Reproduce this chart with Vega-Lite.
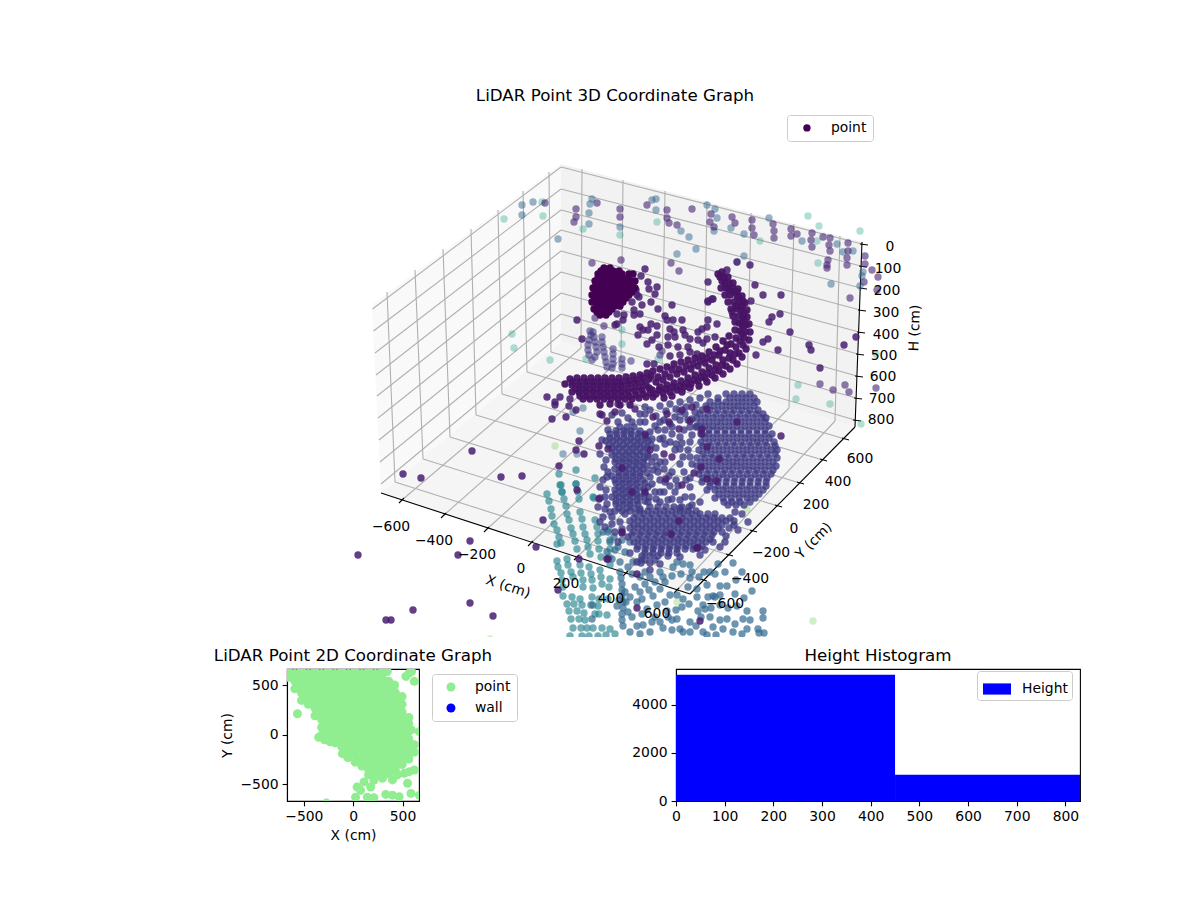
{"$schema":"https://vega.github.io/schema/vega-lite/v6.json","padding":{"left":213,"top":88,"right":120,"bottom":60},"background":"white","spacing":10,
"resolve":{"scale":{"color":"independent"},"legend":{"color":"independent"}},
"config":{"font":"DejaVu Sans","view":{"stroke":null},"title":{"fontSize":16.7,"fontWeight":"normal","color":"black","offset":4},"axis":{"grid":false,"labelFlush":false,"labelFontSize":13.9,"titleFontSize":13.9,"titleFontWeight":"normal","labelColor":"black","titleColor":"black","tickColor":"black","domainColor":"black","tickSize":4.9,"tickWidth":1.1,"domainWidth":1.1,"labelPadding":4,"titlePadding":5},"legend":{"labelFontSize":13.9,"labelColor":"black","cornerRadius":3,"strokeColor":"#cccccc","fillColor":"white","padding":6,"title":null}},
"datasets":{
"gridLines":[{"u":402,"v":498,"u2":581,"v2":346},{"u":444,"v":513,"u2":621,"v2":357},{"u":487,"v":527,"u2":662,"v2":369},{"u":531,"v":541,"u2":704,"v2":381},{"u":577,"v":555,"u2":747,"v2":394},{"u":626,"v":571,"u2":789,"v2":406},{"u":677,"v":588,"u2":835,"v2":419},{"u":581,"v":346,"u2":582,"v2":167},{"u":621,"v":357,"u2":623,"v2":178},{"u":662,"v":369,"u2":665,"v2":189},{"u":704,"v":381,"u2":707,"v2":200},{"u":747,"v":394,"u2":751,"v2":211},{"u":789,"v":406,"u2":794,"v2":222},{"u":835,"v":419,"u2":840,"v2":234},{"u":703,"v":578,"u2":395,"v2":480},{"u":729,"v":553,"u2":423,"v2":457},{"u":753,"v":529,"u2":450,"v2":435},{"u":778,"v":504,"u2":476,"v2":413},{"u":800,"v":481,"u2":502,"v2":392},{"u":823,"v":458,"u2":527,"v2":370},{"u":845,"v":437,"u2":551,"v2":350},{"u":395,"v":480,"u2":387,"v2":290},{"u":423,"v":457,"u2":415,"v2":268},{"u":450,"v":435,"u2":443,"v2":247},{"u":476,"v":413,"u2":471,"v2":227},{"u":502,"v":392,"u2":498,"v2":208},{"u":527,"v":370,"u2":523,"v2":189},{"u":551,"v":350,"u2":549,"v2":170},{"u":561,"v":165,"u2":862,"v2":242},{"u":561,"v":187,"u2":861,"v2":264},{"u":561,"v":208,"u2":861,"v2":286},{"u":561,"v":228,"u2":860,"v2":308},{"u":561,"v":249,"u2":859,"v2":330},{"u":561,"v":270,"u2":858,"v2":352},{"u":561,"v":291,"u2":857,"v2":374},{"u":561,"v":312,"u2":856,"v2":396},{"u":561,"v":332,"u2":855,"v2":418},{"u":561,"v":165,"u2":372.5,"v2":307},{"u":561,"v":187,"u2":373.5,"v2":329},{"u":561,"v":208,"u2":375,"v2":351},{"u":561,"v":228,"u2":376,"v2":373},{"u":561,"v":249,"u2":377,"v2":394},{"u":561,"v":270,"u2":378,"v2":416},{"u":561,"v":291,"u2":379,"v2":438},{"u":561,"v":312,"u2":380,"v2":460},{"u":561,"v":332,"u2":381,"v2":482}],
"axisLines":[{"u":381,"v":491,"u2":690,"v2":592},{"u":690,"v":592,"u2":855,"v2":425},{"u":862,"v":240,"u2":855,"v2":425},{"u":399,"v":501,"u2":404,"v2":496},{"u":441,"v":516,"u2":446,"v2":511},{"u":484,"v":530,"u2":489,"v2":525},{"u":528,"v":544,"u2":533,"v2":539},{"u":574,"v":558,"u2":579,"v2":553},{"u":623,"v":574,"u2":628,"v2":569},{"u":674,"v":591,"u2":679,"v2":586},{"u":700,"v":577,"u2":707,"v2":579},{"u":726,"v":552,"u2":733,"v2":554},{"u":750,"v":528,"u2":757,"v2":530},{"u":775,"v":503,"u2":782,"v2":505},{"u":797,"v":480,"u2":804,"v2":482},{"u":820,"v":457,"u2":827,"v2":459},{"u":842,"v":436,"u2":849,"v2":438},{"u":860,"v":242,"u2":868,"v2":243},{"u":859,"v":264,"u2":867,"v2":265},{"u":859,"v":286,"u2":867,"v2":287},{"u":858,"v":308,"u2":866,"v2":309},{"u":857,"v":330,"u2":865,"v2":331},{"u":856,"v":352,"u2":864,"v2":353},{"u":855,"v":374,"u2":863,"v2":375},{"u":854,"v":396,"u2":862,"v2":397},{"u":853,"v":418,"u2":861,"v2":419}],
"tickLabels":[{"u":391,"v":525,"t":"−600"},{"u":434,"v":539,"t":"−400"},{"u":477,"v":553,"t":"−200"},{"u":521,"v":567,"t":"0"},{"u":566,"v":582,"t":"200"},{"u":611,"v":597,"t":"400"},{"u":657,"v":612,"t":"600"},{"u":860,"v":457,"t":"600"},{"u":838,"v":480,"t":"400"},{"u":816,"v":503,"t":"200"},{"u":794,"v":527,"t":"0"},{"u":771,"v":551,"t":"−200"},{"u":750,"v":577,"t":"−400"},{"u":725,"v":602,"t":"−600"},{"u":890,"v":245,"t":"0"},{"u":888,"v":267,"t":"100"},{"u":887,"v":289,"t":"200"},{"u":886,"v":311,"t":"300"},{"u":886,"v":333,"t":"400"},{"u":884,"v":354,"t":"500"},{"u":883,"v":375,"t":"600"},{"u":882,"v":397,"t":"700"},{"u":881,"v":418,"t":"800"}],
"pale":[{"u":747,"v":507},{"u":677,"v":600},{"u":813,"v":619},{"u":490,"v":637},{"u":555,"v":444}],
"farTeal":[{"u":504,"v":217},{"u":542,"v":200},{"u":543,"v":214},{"u":583,"v":227},{"u":620,"v":233},{"u":512,"v":332},{"u":514,"v":346},{"u":550,"v":358},{"u":586,"v":357},{"u":657,"v":220},{"u":737,"v":260},{"u":760,"v":239},{"u":808,"v":214},{"u":817,"v":239},{"u":819,"v":224},{"u":860,"v":229},{"u":818,"v":261},{"u":876,"v":352},{"u":798,"v":383},{"u":796,"v":397},{"u":830,"v":402},{"u":861,"v":422},{"u":622,"v":328},{"u":622,"v":342},{"u":658,"v":357}],
"backBlue":[{"u":522,"v":203},{"u":522,"v":213},{"u":533,"v":200},{"u":558,"v":237},{"u":589,"v":211},{"u":590,"v":202},{"u":592,"v":197},{"u":589,"v":222},{"u":620,"v":225},{"u":652,"v":198},{"u":656,"v":197},{"u":656,"v":208},{"u":681,"v":229},{"u":689,"v":235},{"u":707,"v":203},{"u":715,"v":207},{"u":717,"v":216},{"u":714,"v":229},{"u":731,"v":226},{"u":744,"v":232},{"u":769,"v":216},{"u":802,"v":239},{"u":837,"v":242},{"u":843,"v":250},{"u":853,"v":249},{"u":831,"v":282},{"u":677,"v":252},{"u":696,"v":247},{"u":744,"v":254},{"u":863,"v":270},{"u":862,"v":274},{"u":860,"v":284},{"u":580,"v":429},{"u":563,"v":452},{"u":577,"v":452},{"u":573,"v":410},{"u":583,"v":406}],
"backPurple":[{"u":545,"v":201},{"u":576,"v":207},{"u":576,"v":215},{"u":574,"v":220},{"u":597,"v":201},{"u":592,"v":261},{"u":620,"v":207},{"u":620,"v":215},{"u":621,"v":258},{"u":647,"v":203},{"u":667,"v":208},{"u":667,"v":216},{"u":669,"v":221},{"u":677,"v":223},{"u":692,"v":207},{"u":711,"v":212},{"u":710,"v":220},{"u":714,"v":225},{"u":732,"v":215},{"u":735,"v":221},{"u":752,"v":218},{"u":752,"v":226},{"u":754,"v":233},{"u":773,"v":222},{"u":774,"v":229},{"u":774,"v":236},{"u":791,"v":227},{"u":791,"v":234},{"u":797,"v":232},{"u":812,"v":231},{"u":811,"v":238},{"u":812,"v":245},{"u":823,"v":235},{"u":830,"v":236},{"u":829,"v":243},{"u":830,"v":249},{"u":848,"v":241},{"u":848,"v":249},{"u":865,"v":254},{"u":847,"v":256},{"u":847,"v":263},{"u":828,"v":258},{"u":827,"v":263},{"u":827,"v":266},{"u":865,"v":262},{"u":872,"v":268},{"u":864,"v":280},{"u":878,"v":275},{"u":877,"v":288},{"u":850,"v":296},{"u":671,"v":261},{"u":679,"v":269},{"u":820,"v":382},{"u":833,"v":388},{"u":845,"v":383},{"u":849,"v":390},{"u":876,"v":386},{"u":604,"v":324},{"u":595,"v":316}],
"fan":[{"u":547,"v":492},{"u":549,"v":499},{"u":551,"v":507},{"u":552,"v":514},{"u":554,"v":522},{"u":557,"v":528},{"u":559,"v":535},{"u":561,"v":541},{"u":561,"v":483},{"u":562,"v":490},{"u":564,"v":497},{"u":566,"v":504},{"u":567,"v":512},{"u":569,"v":518},{"u":571,"v":526},{"u":573,"v":532},{"u":575,"v":539},{"u":577,"v":547},{"u":576,"v":482},{"u":578,"v":490},{"u":579,"v":497},{"u":580,"v":510},{"u":582,"v":517},{"u":583,"v":525},{"u":585,"v":532},{"u":587,"v":538},{"u":588,"v":545},{"u":590,"v":552},{"u":594,"v":496},{"u":595,"v":518},{"u":597,"v":525},{"u":598,"v":532},{"u":598,"v":539},{"u":599,"v":547},{"u":601,"v":555},{"u":609,"v":528},{"u":610,"v":538},{"u":610,"v":547},{"u":609,"v":555},{"u":610,"v":563},{"u":557,"v":559},{"u":558,"v":565},{"u":561,"v":571},{"u":562,"v":578},{"u":563,"v":585},{"u":563,"v":594},{"u":567,"v":602},{"u":569,"v":609},{"u":571,"v":617},{"u":573,"v":626},{"u":570,"v":634},{"u":567,"v":557},{"u":568,"v":563},{"u":571,"v":570},{"u":573,"v":575},{"u":572,"v":595},{"u":574,"v":602},{"u":577,"v":609},{"u":579,"v":617},{"u":581,"v":626},{"u":582,"v":634},{"u":580,"v":563},{"u":581,"v":571},{"u":583,"v":578},{"u":583,"v":585},{"u":580,"v":597},{"u":582,"v":603},{"u":584,"v":611},{"u":585,"v":618},{"u":587,"v":626},{"u":589,"v":634},{"u":589,"v":565},{"u":591,"v":572},{"u":592,"v":578},{"u":593,"v":586},{"u":592,"v":595},{"u":593,"v":603},{"u":595,"v":612},{"u":593,"v":626},{"u":598,"v":634},{"u":600,"v":568},{"u":601,"v":575},{"u":602,"v":582},{"u":599,"v":597},{"u":598,"v":604},{"u":599,"v":612},{"u":602,"v":626},{"u":606,"v":633},{"u":610,"v":577},{"u":609,"v":585},{"u":608,"v":597},{"u":607,"v":613},{"u":610,"v":627},{"u":615,"v":632},{"u":557,"v":542},{"u":559,"v":472},{"u":560,"v":483},{"u":576,"v":468},{"u":576,"v":482},{"u":595,"v":476},{"u":593,"v":495},{"u":562,"v":490}],
"lower":[{"u":733,"v":561},{"u":736,"v":578},{"u":752,"v":589},{"u":720,"v":584},{"u":727,"v":584},{"u":744,"v":596},{"u":735,"v":592},{"u":713,"v":594},{"u":720,"v":593},{"u":707,"v":583},{"u":697,"v":587},{"u":699,"v":575},{"u":710,"v":570},{"u":715,"v":572},{"u":718,"v":562},{"u":683,"v":562},{"u":677,"v":560},{"u":690,"v":563},{"u":692,"v":570},{"u":660,"v":570},{"u":673,"v":565},{"u":663,"v":575},{"u":649,"v":588},{"u":660,"v":587},{"u":670,"v":593},{"u":688,"v":585},{"u":677,"v":593},{"u":689,"v":602},{"u":697,"v":595},{"u":703,"v":603},{"u":708,"v":595},{"u":720,"v":603},{"u":715,"v":595},{"u":705,"v":607},{"u":682,"v":605},{"u":676,"v":608},{"u":667,"v":609},{"u":657,"v":603},{"u":647,"v":607},{"u":747,"v":609},{"u":763,"v":609},{"u":763,"v":616},{"u":743,"v":617},{"u":750,"v":618},{"u":758,"v":627},{"u":764,"v":631},{"u":759,"v":631},{"u":747,"v":627},{"u":727,"v":617},{"u":720,"v":618},{"u":710,"v":615},{"u":701,"v":615},{"u":690,"v":620},{"u":677,"v":617},{"u":668,"v":615},{"u":660,"v":620},{"u":652,"v":620},{"u":663,"v":626},{"u":672,"v":628},{"u":683,"v":630},{"u":690,"v":630},{"u":703,"v":630},{"u":713,"v":625},{"u":723,"v":627},{"u":733,"v":630},{"u":650,"v":630},{"u":643,"v":623},{"u":642,"v":597},{"u":655,"v":615},{"u":680,"v":627},{"u":620,"v":570},{"u":621,"v":576},{"u":622,"v":582},{"u":622,"v":588},{"u":622,"v":594},{"u":623,"v":600},{"u":623,"v":606},{"u":622,"v":612},{"u":622,"v":618},{"u":623,"v":624},{"u":625,"v":590},{"u":619,"v":598},{"u":617,"v":604},{"u":626,"v":600},{"u":628,"v":610},{"u":630,"v":595},{"u":635,"v":585},{"u":640,"v":590},{"u":637,"v":600},{"u":645,"v":570},{"u":640,"v":575},{"u":632,"v":572},{"u":628,"v":565},{"u":620,"v":560},{"u":615,"v":548},{"u":610,"v":540},{"u":607,"v":550},{"u":612,"v":557},{"u":618,"v":545},{"u":625,"v":550},{"u":633,"v":560},{"u":641,"v":558},{"u":650,"v":575},{"u":603,"v":530},{"u":608,"v":530},{"u":614,"v":535},{"u":622,"v":538},{"u":630,"v":540},{"u":591,"v":603},{"u":592,"v":617},{"u":665,"v":580},{"u":672,"v":574},{"u":681,"v":572},{"u":690,"v":576},{"u":655,"v":580},{"u":645,"v":582},{"u":653,"v":594},{"u":665,"v":600},{"u":632,"v":615},{"u":637,"v":624},{"u":642,"v":612},{"u":630,"v":630},{"u":640,"v":632},{"u":672,"v":618},{"u":696,"v":624},{"u":711,"v":606},{"u":728,"v":606},{"u":737,"v":604},{"u":707,"v":633},{"u":716,"v":633},{"u":742,"v":632},{"u":735,"v":622},{"u":698,"v":609},{"u":683,"v":597},{"u":704,"v":570},{"u":725,"v":570},{"u":742,"v":570}],
"tubes":[{"u":590,"v":329},{"u":591,"v":333},{"u":589,"v":338},{"u":588,"v":343},{"u":588,"v":348},{"u":589,"v":353},{"u":592,"v":358},{"u":593,"v":330},{"u":594,"v":335},{"u":595,"v":340},{"u":596,"v":345},{"u":597,"v":350},{"u":595,"v":355},{"u":602,"v":335},{"u":602,"v":340},{"u":603,"v":345},{"u":604,"v":350},{"u":605,"v":355},{"u":606,"v":360},{"u":607,"v":365},{"u":613,"v":347},{"u":613,"v":352},{"u":613,"v":357},{"u":613,"v":362},{"u":612,"v":366},{"u":622,"v":362},{"u":622,"v":366},{"u":631,"v":359},{"u":622,"v":357},{"u":660,"v":353},{"u":662,"v":349}],
"disc":[{"u":726,"v":392},{"u":734,"v":392},{"u":742,"v":392},{"u":750,"v":392},{"u":710,"v":400},{"u":718,"v":400},{"u":726,"v":400},{"u":734,"v":400},{"u":742,"v":400},{"u":750,"v":400},{"u":757,"v":400},{"u":702,"v":408},{"u":710,"v":408},{"u":718,"v":408},{"u":726,"v":408},{"u":734,"v":408},{"u":742,"v":408},{"u":750,"v":408},{"u":758,"v":408},{"u":697,"v":416},{"u":705,"v":416},{"u":713,"v":416},{"u":721,"v":416},{"u":729,"v":416},{"u":737,"v":416},{"u":745,"v":416},{"u":753,"v":416},{"u":761,"v":416},{"u":766,"v":416},{"u":697,"v":424},{"u":705,"v":424},{"u":713,"v":424},{"u":721,"v":424},{"u":729,"v":424},{"u":737,"v":424},{"u":745,"v":424},{"u":753,"v":424},{"u":761,"v":424},{"u":769,"v":424},{"u":701,"v":432},{"u":709,"v":432},{"u":717,"v":432},{"u":725,"v":432},{"u":733,"v":432},{"u":741,"v":432},{"u":749,"v":432},{"u":757,"v":432},{"u":765,"v":432},{"u":772,"v":432},{"u":701,"v":440},{"u":709,"v":440},{"u":717,"v":440},{"u":725,"v":440},{"u":733,"v":440},{"u":741,"v":440},{"u":749,"v":440},{"u":757,"v":440},{"u":765,"v":440},{"u":774,"v":440},{"u":699,"v":448},{"u":707,"v":448},{"u":715,"v":448},{"u":723,"v":448},{"u":731,"v":448},{"u":739,"v":448},{"u":747,"v":448},{"u":755,"v":448},{"u":763,"v":448},{"u":771,"v":448},{"u":777,"v":448},{"u":697,"v":456},{"u":705,"v":456},{"u":713,"v":456},{"u":721,"v":456},{"u":729,"v":456},{"u":737,"v":456},{"u":745,"v":456},{"u":753,"v":456},{"u":761,"v":456},{"u":769,"v":456},{"u":777,"v":456},{"u":697,"v":464},{"u":705,"v":464},{"u":713,"v":464},{"u":721,"v":464},{"u":729,"v":464},{"u":737,"v":464},{"u":745,"v":464},{"u":753,"v":464},{"u":761,"v":464},{"u":769,"v":464},{"u":776,"v":464},{"u":699,"v":472},{"u":707,"v":472},{"u":715,"v":472},{"u":723,"v":472},{"u":731,"v":472},{"u":739,"v":472},{"u":747,"v":472},{"u":755,"v":472},{"u":763,"v":472},{"u":771,"v":472},{"u":702,"v":480},{"u":710,"v":480},{"u":718,"v":480},{"u":726,"v":480},{"u":734,"v":480},{"u":742,"v":480},{"u":750,"v":480},{"u":758,"v":480},{"u":766,"v":480},{"u":707,"v":488},{"u":715,"v":488},{"u":723,"v":488},{"u":731,"v":488},{"u":739,"v":488},{"u":747,"v":488},{"u":755,"v":488},{"u":763,"v":488},{"u":715,"v":496},{"u":723,"v":496},{"u":731,"v":496},{"u":739,"v":496},{"u":747,"v":496},{"u":755,"v":496},{"u":728,"v":503},{"u":736,"v":503},{"u":744,"v":503},{"u":718,"v":396},{"u":730,"v":396},{"u":738,"v":396},{"u":746,"v":396},{"u":754,"v":396},{"u":706,"v":404},{"u":714,"v":404},{"u":722,"v":404},{"u":730,"v":404},{"u":738,"v":404},{"u":746,"v":404},{"u":754,"v":404},{"u":700,"v":412},{"u":708,"v":412},{"u":716,"v":412},{"u":724,"v":412},{"u":732,"v":412},{"u":740,"v":412},{"u":748,"v":412},{"u":756,"v":412},{"u":763,"v":412},{"u":701,"v":420},{"u":709,"v":420},{"u":717,"v":420},{"u":725,"v":420},{"u":733,"v":420},{"u":741,"v":420},{"u":749,"v":420},{"u":757,"v":420},{"u":765,"v":420},{"u":701,"v":428},{"u":709,"v":428},{"u":717,"v":428},{"u":725,"v":428},{"u":733,"v":428},{"u":741,"v":428},{"u":749,"v":428},{"u":757,"v":428},{"u":765,"v":428},{"u":705,"v":436},{"u":713,"v":436},{"u":721,"v":436},{"u":729,"v":436},{"u":737,"v":436},{"u":745,"v":436},{"u":753,"v":436},{"u":761,"v":436},{"u":769,"v":436},{"u":703,"v":444},{"u":711,"v":444},{"u":719,"v":444},{"u":727,"v":444},{"u":735,"v":444},{"u":743,"v":444},{"u":751,"v":444},{"u":759,"v":444},{"u":767,"v":444},{"u":775,"v":444},{"u":703,"v":452},{"u":711,"v":452},{"u":719,"v":452},{"u":727,"v":452},{"u":735,"v":452},{"u":743,"v":452},{"u":751,"v":452},{"u":759,"v":452},{"u":767,"v":452},{"u":775,"v":452},{"u":701,"v":460},{"u":709,"v":460},{"u":717,"v":460},{"u":725,"v":460},{"u":733,"v":460},{"u":741,"v":460},{"u":749,"v":460},{"u":757,"v":460},{"u":765,"v":460},{"u":773,"v":460},{"u":701,"v":468},{"u":709,"v":468},{"u":717,"v":468},{"u":725,"v":468},{"u":733,"v":468},{"u":741,"v":468},{"u":749,"v":468},{"u":757,"v":468},{"u":765,"v":468},{"u":773,"v":468},{"u":703,"v":476},{"u":711,"v":476},{"u":719,"v":476},{"u":727,"v":476},{"u":735,"v":476},{"u":743,"v":476},{"u":751,"v":476},{"u":759,"v":476},{"u":767,"v":476},{"u":710,"v":484},{"u":718,"v":484},{"u":726,"v":484},{"u":734,"v":484},{"u":742,"v":484},{"u":750,"v":484},{"u":758,"v":484},{"u":766,"v":484},{"u":719,"v":492},{"u":727,"v":492},{"u":735,"v":492},{"u":743,"v":492},{"u":751,"v":492},{"u":759,"v":492},{"u":724,"v":500},{"u":732,"v":500},{"u":740,"v":500},{"u":750,"v":500},{"u":620,"v":425},{"u":627,"v":425},{"u":634,"v":425},{"u":610,"v":432},{"u":617,"v":432},{"u":624,"v":432},{"u":631,"v":432},{"u":638,"v":432},{"u":645,"v":432},{"u":606,"v":439},{"u":613,"v":439},{"u":620,"v":439},{"u":627,"v":439},{"u":634,"v":439},{"u":641,"v":439},{"u":648,"v":439},{"u":612,"v":446},{"u":619,"v":446},{"u":626,"v":446},{"u":633,"v":446},{"u":640,"v":446},{"u":647,"v":446},{"u":612,"v":453},{"u":619,"v":453},{"u":626,"v":453},{"u":633,"v":453},{"u":640,"v":453},{"u":648,"v":453},{"u":615,"v":460},{"u":622,"v":460},{"u":629,"v":460},{"u":636,"v":460},{"u":643,"v":460},{"u":652,"v":460},{"u":660,"v":460},{"u":615,"v":467},{"u":622,"v":467},{"u":629,"v":467},{"u":636,"v":467},{"u":643,"v":467},{"u":653,"v":468},{"u":664,"v":467},{"u":612,"v":474},{"u":619,"v":474},{"u":626,"v":474},{"u":633,"v":474},{"u":640,"v":474},{"u":650,"v":475},{"u":669,"v":474},{"u":616,"v":481},{"u":623,"v":481},{"u":630,"v":481},{"u":637,"v":481},{"u":645,"v":481},{"u":615,"v":488},{"u":622,"v":488},{"u":629,"v":488},{"u":636,"v":488},{"u":644,"v":488},{"u":612,"v":495},{"u":619,"v":495},{"u":626,"v":495},{"u":633,"v":495},{"u":640,"v":495},{"u":649,"v":495},{"u":616,"v":502},{"u":623,"v":502},{"u":630,"v":502},{"u":638,"v":502},{"u":615,"v":509},{"u":622,"v":509},{"u":630,"v":509},{"u":616,"v":429},{"u":624,"v":429},{"u":631,"v":429},{"u":640,"v":429},{"u":610,"v":436},{"u":617,"v":436},{"u":624,"v":436},{"u":631,"v":436},{"u":638,"v":436},{"u":646,"v":436},{"u":609,"v":443},{"u":616,"v":443},{"u":623,"v":443},{"u":630,"v":443},{"u":637,"v":443},{"u":644,"v":443},{"u":651,"v":443},{"u":615,"v":450},{"u":622,"v":450},{"u":629,"v":450},{"u":636,"v":450},{"u":643,"v":450},{"u":616,"v":457},{"u":623,"v":457},{"u":630,"v":457},{"u":637,"v":457},{"u":644,"v":457},{"u":655,"v":455},{"u":619,"v":464},{"u":626,"v":464},{"u":633,"v":464},{"u":640,"v":464},{"u":647,"v":464},{"u":657,"v":464},{"u":619,"v":471},{"u":626,"v":471},{"u":633,"v":471},{"u":640,"v":471},{"u":647,"v":471},{"u":615,"v":478},{"u":622,"v":478},{"u":629,"v":478},{"u":636,"v":478},{"u":643,"v":478},{"u":619,"v":485},{"u":626,"v":485},{"u":633,"v":485},{"u":640,"v":485},{"u":648,"v":485},{"u":616,"v":492},{"u":623,"v":492},{"u":630,"v":492},{"u":637,"v":492},{"u":645,"v":492},{"u":616,"v":499},{"u":623,"v":499},{"u":630,"v":499},{"u":637,"v":499},{"u":645,"v":499},{"u":619,"v":506},{"u":627,"v":506},{"u":634,"v":506},{"u":650,"v":505},{"u":658,"v":505},{"u":666,"v":505},{"u":674,"v":505},{"u":682,"v":505},{"u":689,"v":505},{"u":636,"v":512},{"u":644,"v":512},{"u":652,"v":512},{"u":660,"v":512},{"u":668,"v":512},{"u":676,"v":512},{"u":684,"v":512},{"u":692,"v":512},{"u":700,"v":512},{"u":708,"v":512},{"u":715,"v":512},{"u":630,"v":519},{"u":638,"v":519},{"u":646,"v":519},{"u":654,"v":519},{"u":662,"v":519},{"u":670,"v":519},{"u":678,"v":519},{"u":686,"v":519},{"u":694,"v":519},{"u":702,"v":519},{"u":710,"v":519},{"u":718,"v":519},{"u":726,"v":519},{"u":734,"v":519},{"u":630,"v":526},{"u":638,"v":526},{"u":646,"v":526},{"u":654,"v":526},{"u":662,"v":526},{"u":670,"v":526},{"u":678,"v":526},{"u":686,"v":526},{"u":694,"v":526},{"u":702,"v":526},{"u":710,"v":526},{"u":718,"v":526},{"u":729,"v":526},{"u":632,"v":533},{"u":640,"v":533},{"u":648,"v":533},{"u":656,"v":533},{"u":664,"v":533},{"u":672,"v":533},{"u":680,"v":533},{"u":688,"v":533},{"u":696,"v":533},{"u":704,"v":533},{"u":712,"v":533},{"u":726,"v":534},{"u":634,"v":540},{"u":642,"v":540},{"u":650,"v":540},{"u":658,"v":540},{"u":666,"v":540},{"u":674,"v":540},{"u":682,"v":540},{"u":690,"v":540},{"u":698,"v":540},{"u":706,"v":540},{"u":713,"v":540},{"u":637,"v":547},{"u":645,"v":547},{"u":653,"v":547},{"u":661,"v":547},{"u":669,"v":547},{"u":677,"v":547},{"u":685,"v":547},{"u":693,"v":547},{"u":642,"v":554},{"u":650,"v":554},{"u":658,"v":554},{"u":668,"v":554},{"u":641,"v":561},{"u":650,"v":561},{"u":640,"v":509},{"u":648,"v":509},{"u":656,"v":509},{"u":664,"v":509},{"u":672,"v":509},{"u":680,"v":509},{"u":688,"v":509},{"u":696,"v":509},{"u":634,"v":516},{"u":642,"v":516},{"u":650,"v":516},{"u":658,"v":516},{"u":666,"v":516},{"u":674,"v":516},{"u":682,"v":516},{"u":690,"v":516},{"u":698,"v":516},{"u":706,"v":516},{"u":714,"v":516},{"u":722,"v":516},{"u":730,"v":516},{"u":634,"v":523},{"u":642,"v":523},{"u":650,"v":523},{"u":658,"v":523},{"u":666,"v":523},{"u":674,"v":523},{"u":682,"v":523},{"u":690,"v":523},{"u":698,"v":523},{"u":706,"v":523},{"u":714,"v":523},{"u":722,"v":523},{"u":734,"v":523},{"u":634,"v":530},{"u":642,"v":530},{"u":650,"v":530},{"u":658,"v":530},{"u":666,"v":530},{"u":674,"v":530},{"u":682,"v":530},{"u":690,"v":530},{"u":698,"v":530},{"u":706,"v":530},{"u":714,"v":530},{"u":722,"v":530},{"u":638,"v":537},{"u":646,"v":537},{"u":654,"v":537},{"u":662,"v":537},{"u":670,"v":537},{"u":678,"v":537},{"u":686,"v":537},{"u":694,"v":537},{"u":702,"v":537},{"u":710,"v":537},{"u":638,"v":544},{"u":646,"v":544},{"u":654,"v":544},{"u":662,"v":544},{"u":670,"v":544},{"u":678,"v":544},{"u":686,"v":544},{"u":694,"v":544},{"u":702,"v":544},{"u":645,"v":551},{"u":653,"v":551},{"u":661,"v":551},{"u":669,"v":551},{"u":677,"v":551},{"u":645,"v":558},{"u":655,"v":558},{"u":640,"v":412},{"u":650,"v":408},{"u":660,"v":404},{"u":670,"v":402},{"u":680,"v":400},{"u":690,"v":398},{"u":700,"v":396},{"u":708,"v":392},{"u":632,"v":420},{"u":645,"v":420},{"u":655,"v":424},{"u":665,"v":428},{"u":675,"v":415},{"u":685,"v":412},{"u":695,"v":410},{"u":690,"v":425},{"u":680,"v":435},{"u":670,"v":440},{"u":660,"v":437},{"u":650,"v":430},{"u":690,"v":440},{"u":680,"v":447},{"u":665,"v":460},{"u":672,"v":470},{"u":680,"v":462},{"u":690,"v":455},{"u":658,"v":470},{"u":665,"v":480},{"u":675,"v":490},{"u":685,"v":495},{"u":655,"v":490},{"u":660,"v":500},{"u":690,"v":485},{"u":612,"v":515},{"u":605,"v":507},{"u":600,"v":520},{"u":620,"v":520},{"u":605,"v":525},{"u":615,"v":530},{"u":607,"v":475},{"u":604,"v":465},{"u":600,"v":485},{"u":605,"v":495},{"u":598,"v":505},{"u":612,"v":413},{"u":622,"v":411},{"u":645,"v":412},{"u":656,"v":414},{"u":666,"v":409},{"u":676,"v":407},{"u":686,"v":405},{"u":696,"v":403},{"u":640,"v":420},{"u":660,"v":420},{"u":670,"v":422},{"u":680,"v":418},{"u":692,"v":417},{"u":658,"v":428},{"u":672,"v":432},{"u":684,"v":428},{"u":692,"v":433},{"u":652,"v":437},{"u":665,"v":442},{"u":682,"v":441},{"u":675,"v":448},{"u":688,"v":448},{"u":684,"v":470},{"u":690,"v":476},{"u":676,"v":478},{"u":660,"v":490},{"u":668,"v":498},{"u":680,"v":498},{"u":692,"v":495},{"u":700,"v":500},{"u":648,"v":455},{"u":656,"v":446},{"u":663,"v":436},{"u":672,"v":425},{"u":680,"v":410},{"u":688,"v":418},{"u":696,"v":425},{"u":664,"v":418},{"u":676,"v":442},{"u":683,"v":455},{"u":692,"v":462},{"u":686,"v":478},{"u":678,"v":484},{"u":670,"v":484},{"u":660,"v":478},{"u":652,"v":482},{"u":648,"v":500},{"u":656,"v":497},{"u":664,"v":490},{"u":672,"v":497},{"u":680,"v":506},{"u":692,"v":503},{"u":645,"v":405},{"u":628,"v":416},{"u":618,"v":420},{"u":608,"v":428},{"u":602,"v":438},{"u":600,"v":452},{"u":606,"v":458},{"u":608,"v":470},{"u":603,"v":478},{"u":606,"v":488},{"u":600,"v":496},{"u":607,"v":502},{"u":610,"v":510},{"u":603,"v":515},{"u":612,"v":522},{"u":622,"v":527},{"u":628,"v":535},{"u":618,"v":540},{"u":625,"v":512},{"u":640,"v":507},{"u":735,"v":510},{"u":742,"v":512},{"u":748,"v":520},{"u":738,"v":528},{"u":725,"v":540},{"u":720,"v":545},{"u":705,"v":548},{"u":700,"v":553},{"u":680,"v":555},{"u":660,"v":562},{"u":650,"v":568},{"u":637,"v":560},{"u":630,"v":551}],
"scatter":[{"u":577,"v":318},{"u":582,"v":337},{"u":645,"v":267},{"u":641,"v":274},{"u":648,"v":280},{"u":649,"v":287},{"u":657,"v":285},{"u":655,"v":292},{"u":637,"v":293},{"u":639,"v":295},{"u":636,"v":288},{"u":651,"v":300},{"u":642,"v":303},{"u":632,"v":300},{"u":658,"v":307},{"u":672,"v":303},{"u":634,"v":308},{"u":640,"v":312},{"u":634,"v":313},{"u":617,"v":312},{"u":624,"v":313},{"u":623,"v":318},{"u":617,"v":322},{"u":615,"v":323},{"u":665,"v":314},{"u":667,"v":318},{"u":673,"v":318},{"u":682,"v":318},{"u":708,"v":318},{"u":717,"v":322},{"u":707,"v":325},{"u":702,"v":327},{"u":698,"v":330},{"u":651,"v":322},{"u":657,"v":324},{"u":640,"v":325},{"u":643,"v":328},{"u":648,"v":328},{"u":638,"v":333},{"u":647,"v":342},{"u":652,"v":338},{"u":657,"v":333},{"u":670,"v":327},{"u":674,"v":330},{"u":683,"v":328},{"u":668,"v":335},{"u":675,"v":335},{"u":685,"v":333},{"u":690,"v":337},{"u":698,"v":338},{"u":707,"v":337},{"u":715,"v":335},{"u":703,"v":341},{"u":678,"v":345},{"u":668,"v":343},{"u":659,"v":345},{"u":688,"v":345},{"u":690,"v":350},{"u":697,"v":352},{"u":680,"v":353},{"u":670,"v":354},{"u":647,"v":362},{"u":654,"v":362},{"u":708,"v":300},{"u":713,"v":297},{"u":708,"v":280},{"u":737,"v":260},{"u":750,"v":263},{"u":755,"v":283},{"u":751,"v":299},{"u":756,"v":353},{"u":732,"v":310},{"u":727,"v":268},{"u":708,"v":299},{"u":712,"v":297},{"u":763,"v":293},{"u":781,"v":293},{"u":780,"v":312},{"u":772,"v":315},{"u":769,"v":320},{"u":790,"v":330},{"u":768,"v":337},{"u":763,"v":340},{"u":778,"v":348},{"u":809,"v":343},{"u":811,"v":348},{"u":844,"v":343},{"u":856,"v":335},{"u":820,"v":366},{"u":781,"v":434},{"u":472,"v":449},{"u":403,"v":472},{"u":421,"v":476},{"u":501,"v":475},{"u":522,"v":474},{"u":559,"v":464},{"u":543,"v":518},{"u":536,"v":545},{"u":470,"v":539},{"u":458,"v":553},{"u":358,"v":553},{"u":470,"v":601},{"u":493,"v":614},{"u":413,"v":608},{"u":386,"v":618},{"u":391,"v":618},{"u":558,"v":588},{"u":579,"v":557},{"u":577,"v":488},{"u":547,"v":395},{"u":555,"v":400},{"u":560,"v":395},{"u":555,"v":403},{"u":570,"v":397},{"u":569,"v":404},{"u":576,"v":408},{"u":552,"v":417},{"u":566,"v":415},{"u":600,"v":412},{"u":607,"v":419},{"u":579,"v":439},{"u":599,"v":444},{"u":576,"v":448},{"u":584,"v":452},{"u":608,"v":447},{"u":615,"v":410},{"u":599,"v":497},{"u":608,"v":557},{"u":622,"v":530},{"u":637,"v":572},{"u":637,"v":606},{"u":700,"v":619},{"u":698,"v":546},{"u":645,"v":433},{"u":650,"v":448},{"u":664,"v":452},{"u":672,"v":455},{"u":622,"v":466},{"u":632,"v":490},{"u":645,"v":490},{"u":666,"v":477},{"u":682,"v":483},{"u":694,"v":471},{"u":701,"v":465},{"u":707,"v":477},{"u":716,"v":479},{"u":679,"v":519},{"u":671,"v":532},{"u":697,"v":546},{"u":622,"v":531},{"u":607,"v":557},{"u":719,"v":457},{"u":667,"v":412},{"u":682,"v":408},{"u":669,"v":420},{"u":679,"v":427},{"u":690,"v":419},{"u":702,"v":427},{"u":702,"v":432},{"u":707,"v":407},{"u":737,"v":420},{"u":707,"v":445},{"u":692,"v":405},{"u":653,"v":415},{"u":635,"v":407},{"u":618,"v":402},{"u":602,"v":413}],
"arc":[{"u":718,"v":272},{"u":722,"v":279},{"u":726,"v":286},{"u":730,"v":293},{"u":734,"v":300},{"u":737,"v":307},{"u":739,"v":314},{"u":739,"v":321},{"u":735,"v":328},{"u":729,"v":334},{"u":723,"v":339},{"u":716,"v":345},{"u":709,"v":350},{"u":702,"v":354},{"u":695,"v":356},{"u":688,"v":358},{"u":681,"v":360},{"u":674,"v":362},{"u":667,"v":365},{"u":660,"v":367},{"u":653,"v":369},{"u":722,"v":270},{"u":728,"v":275},{"u":733,"v":281},{"u":738,"v":287},{"u":742,"v":294},{"u":745,"v":301},{"u":747,"v":308},{"u":747,"v":315},{"u":746,"v":323},{"u":745,"v":330},{"u":744,"v":336},{"u":743,"v":343},{"u":739,"v":351},{"u":733,"v":358},{"u":726,"v":364},{"u":719,"v":369},{"u":712,"v":373},{"u":705,"v":376},{"u":698,"v":379},{"u":691,"v":382},{"u":684,"v":385},{"u":677,"v":388},{"u":670,"v":390},{"u":663,"v":391},{"u":656,"v":392},{"u":742,"v":322},{"u":740,"v":329},{"u":736,"v":336},{"u":731,"v":342},{"u":725,"v":348},{"u":719,"v":353},{"u":712,"v":358},{"u":705,"v":361},{"u":698,"v":364},{"u":691,"v":367},{"u":684,"v":370},{"u":677,"v":372},{"u":670,"v":375},{"u":663,"v":378},{"u":656,"v":380},{"u":736,"v":345},{"u":730,"v":351},{"u":723,"v":358},{"u":716,"v":363},{"u":709,"v":366},{"u":702,"v":370},{"u":695,"v":373},{"u":688,"v":376},{"u":681,"v":379},{"u":674,"v":381},{"u":667,"v":383},{"u":660,"v":385},{"u":741,"v":308},{"u":743,"v":315},{"u":720,"v":275},{"u":725,"v":281},{"u":729,"v":287},{"u":733,"v":290},{"u":737,"v":294},{"u":740,"v":300},{"u":742,"v":304},{"u":744,"v":311},{"u":744,"v":318},{"u":743,"v":325},{"u":742,"v":332},{"u":740,"v":339},{"u":735,"v":352},{"u":729,"v":356},{"u":722,"v":363},{"u":715,"v":368},{"u":708,"v":371},{"u":701,"v":375},{"u":694,"v":378},{"u":687,"v":381},{"u":680,"v":384},{"u":673,"v":385},{"u":666,"v":387},{"u":659,"v":388},{"u":652,"v":388},{"u":727,"v":343},{"u":720,"v":349},{"u":714,"v":353},{"u":707,"v":356},{"u":700,"v":359},{"u":693,"v":362},{"u":686,"v":364},{"u":679,"v":367},{"u":672,"v":368},{"u":665,"v":372},{"u":658,"v":375},{"u":651,"v":374},{"u":570,"v":377},{"u":577,"v":376},{"u":584,"v":376},{"u":591,"v":376},{"u":598,"v":376},{"u":605,"v":376},{"u":612,"v":376},{"u":619,"v":376},{"u":626,"v":375},{"u":633,"v":374},{"u":640,"v":373},{"u":647,"v":371},{"u":565,"v":382},{"u":572,"v":383},{"u":579,"v":383},{"u":586,"v":383},{"u":593,"v":383},{"u":600,"v":383},{"u":607,"v":383},{"u":614,"v":383},{"u":621,"v":383},{"u":628,"v":382},{"u":635,"v":381},{"u":642,"v":380},{"u":649,"v":377},{"u":572,"v":390},{"u":579,"v":390},{"u":586,"v":390},{"u":593,"v":390},{"u":600,"v":390},{"u":607,"v":390},{"u":614,"v":390},{"u":621,"v":390},{"u":628,"v":390},{"u":635,"v":389},{"u":642,"v":388},{"u":649,"v":386},{"u":583,"v":397},{"u":590,"v":397},{"u":597,"v":397},{"u":604,"v":397},{"u":611,"v":397},{"u":618,"v":397},{"u":625,"v":397},{"u":632,"v":397},{"u":639,"v":396},{"u":646,"v":395},{"u":653,"v":395},{"u":600,"v":403},{"u":610,"v":402},{"u":620,"v":403},{"u":630,"v":403},{"u":573,"v":380},{"u":580,"v":380},{"u":587,"v":380},{"u":594,"v":380},{"u":601,"v":380},{"u":608,"v":380},{"u":615,"v":380},{"u":622,"v":380},{"u":629,"v":379},{"u":636,"v":378},{"u":643,"v":376},{"u":576,"v":387},{"u":583,"v":387},{"u":590,"v":387},{"u":597,"v":387},{"u":604,"v":387},{"u":611,"v":387},{"u":618,"v":387},{"u":625,"v":387},{"u":632,"v":386},{"u":639,"v":385},{"u":646,"v":383},{"u":580,"v":394},{"u":587,"v":394},{"u":594,"v":394},{"u":601,"v":394},{"u":608,"v":394},{"u":615,"v":394},{"u":622,"v":394},{"u":629,"v":394},{"u":636,"v":393},{"u":643,"v":392},{"u":650,"v":391},{"u":724,"v":275},{"u":729,"v":281},{"u":733,"v":286},{"u":737,"v":290},{"u":739,"v":296},{"u":743,"v":299},{"u":736,"v":304},{"u":735,"v":320},{"u":733,"v":314},{"u":731,"v":307},{"u":728,"v":300},{"u":725,"v":293},{"u":721,"v":286},{"u":749,"v":322},{"u":750,"v":330},{"u":749,"v":338},{"u":746,"v":347},{"u":742,"v":355},{"u":737,"v":362},{"u":730,"v":367},{"u":723,"v":372},{"u":715,"v":376},{"u":707,"v":380},{"u":699,"v":384},{"u":690,"v":386},{"u":682,"v":390},{"u":672,"v":394},{"u":664,"v":396}],
"blob":[{"u":604,"v":266},{"u":610,"v":266},{"u":598,"v":272},{"u":604,"v":272},{"u":610,"v":272},{"u":616,"v":272},{"u":622,"v":272},{"u":629,"v":272},{"u":633,"v":272},{"u":595,"v":279},{"u":601,"v":279},{"u":607,"v":279},{"u":613,"v":279},{"u":619,"v":279},{"u":625,"v":279},{"u":631,"v":279},{"u":635,"v":279},{"u":593,"v":286},{"u":599,"v":286},{"u":605,"v":286},{"u":611,"v":286},{"u":617,"v":286},{"u":623,"v":286},{"u":629,"v":286},{"u":635,"v":286},{"u":592,"v":293},{"u":598,"v":293},{"u":604,"v":293},{"u":610,"v":293},{"u":616,"v":293},{"u":622,"v":293},{"u":629,"v":293},{"u":592,"v":300},{"u":598,"v":300},{"u":604,"v":300},{"u":610,"v":300},{"u":616,"v":300},{"u":623,"v":300},{"u":594,"v":307},{"u":600,"v":307},{"u":606,"v":307},{"u":612,"v":307},{"u":600,"v":313},{"u":606,"v":313},{"u":601,"v":269},{"u":607,"v":269},{"u":613,"v":269},{"u":619,"v":269},{"u":598,"v":276},{"u":604,"v":276},{"u":610,"v":276},{"u":616,"v":276},{"u":622,"v":276},{"u":628,"v":276},{"u":596,"v":283},{"u":602,"v":283},{"u":608,"v":283},{"u":614,"v":283},{"u":620,"v":283},{"u":626,"v":283},{"u":632,"v":283},{"u":596,"v":290},{"u":602,"v":290},{"u":608,"v":290},{"u":614,"v":290},{"u":620,"v":290},{"u":626,"v":290},{"u":632,"v":290},{"u":595,"v":297},{"u":601,"v":297},{"u":607,"v":297},{"u":613,"v":297},{"u":619,"v":297},{"u":626,"v":296},{"u":597,"v":304},{"u":603,"v":304},{"u":609,"v":304},{"u":615,"v":304},{"u":620,"v":304},{"u":597,"v":310},{"u":603,"v":310},{"u":609,"v":310}],
"plan":[{"x":-660,"y":660},{"x":-660,"y":582},{"x":-592,"y":621},{"x":-592,"y":543},{"x":-592,"y":465},{"x":-524,"y":660},{"x":-524,"y":582},{"x":-524,"y":504},{"x":-524,"y":426},{"x":-524,"y":348},{"x":-456,"y":621},{"x":-456,"y":543},{"x":-456,"y":465},{"x":-456,"y":387},{"x":-456,"y":309},{"x":-388,"y":660},{"x":-388,"y":582},{"x":-388,"y":504},{"x":-388,"y":426},{"x":-388,"y":348},{"x":-388,"y":270},{"x":-388,"y":192},{"x":-320,"y":621},{"x":-320,"y":543},{"x":-320,"y":465},{"x":-320,"y":387},{"x":-320,"y":309},{"x":-320,"y":231},{"x":-320,"y":153},{"x":-320,"y":75},{"x":-320,"y":-3},{"x":-252,"y":660},{"x":-252,"y":582},{"x":-252,"y":504},{"x":-252,"y":426},{"x":-252,"y":348},{"x":-252,"y":270},{"x":-252,"y":192},{"x":-252,"y":114},{"x":-252,"y":36},{"x":-252,"y":-42},{"x":-184,"y":621},{"x":-184,"y":543},{"x":-184,"y":465},{"x":-184,"y":387},{"x":-184,"y":309},{"x":-184,"y":231},{"x":-184,"y":153},{"x":-184,"y":75},{"x":-184,"y":-3},{"x":-184,"y":-81},{"x":-116,"y":660},{"x":-116,"y":582},{"x":-116,"y":504},{"x":-116,"y":426},{"x":-116,"y":348},{"x":-116,"y":270},{"x":-116,"y":192},{"x":-116,"y":114},{"x":-116,"y":36},{"x":-116,"y":-42},{"x":-116,"y":-120},{"x":-48,"y":621},{"x":-48,"y":543},{"x":-48,"y":465},{"x":-48,"y":387},{"x":-48,"y":309},{"x":-48,"y":231},{"x":-48,"y":153},{"x":-48,"y":75},{"x":-48,"y":-3},{"x":-48,"y":-81},{"x":-48,"y":-159},{"x":-48,"y":-225},{"x":20,"y":660},{"x":20,"y":582},{"x":20,"y":504},{"x":20,"y":426},{"x":20,"y":348},{"x":20,"y":270},{"x":20,"y":192},{"x":20,"y":114},{"x":20,"y":36},{"x":20,"y":-42},{"x":20,"y":-120},{"x":20,"y":-198},{"x":20,"y":-276},{"x":88,"y":621},{"x":88,"y":543},{"x":88,"y":465},{"x":88,"y":387},{"x":88,"y":309},{"x":88,"y":231},{"x":88,"y":153},{"x":88,"y":75},{"x":88,"y":-3},{"x":88,"y":-81},{"x":88,"y":-159},{"x":88,"y":-237},{"x":88,"y":-315},{"x":156,"y":660},{"x":156,"y":582},{"x":156,"y":504},{"x":156,"y":426},{"x":156,"y":348},{"x":156,"y":270},{"x":156,"y":192},{"x":156,"y":114},{"x":156,"y":36},{"x":156,"y":-42},{"x":156,"y":-120},{"x":156,"y":-198},{"x":156,"y":-276},{"x":156,"y":-354},{"x":156,"y":-405},{"x":224,"y":621},{"x":224,"y":543},{"x":224,"y":465},{"x":224,"y":387},{"x":224,"y":309},{"x":224,"y":231},{"x":224,"y":153},{"x":224,"y":75},{"x":224,"y":-3},{"x":224,"y":-81},{"x":224,"y":-159},{"x":224,"y":-237},{"x":224,"y":-315},{"x":224,"y":-393},{"x":292,"y":660},{"x":292,"y":582},{"x":292,"y":504},{"x":292,"y":426},{"x":292,"y":348},{"x":292,"y":270},{"x":292,"y":192},{"x":292,"y":114},{"x":292,"y":36},{"x":292,"y":-42},{"x":292,"y":-120},{"x":292,"y":-198},{"x":292,"y":-276},{"x":292,"y":-354},{"x":292,"y":-415},{"x":345,"y":640},{"x":360,"y":543},{"x":360,"y":465},{"x":360,"y":387},{"x":360,"y":309},{"x":360,"y":231},{"x":360,"y":153},{"x":360,"y":75},{"x":360,"y":-3},{"x":360,"y":-81},{"x":360,"y":-159},{"x":360,"y":-237},{"x":360,"y":-315},{"x":360,"y":-393},{"x":420,"y":504},{"x":428,"y":426},{"x":428,"y":348},{"x":428,"y":270},{"x":428,"y":192},{"x":428,"y":114},{"x":428,"y":36},{"x":428,"y":-42},{"x":428,"y":-120},{"x":428,"y":-198},{"x":428,"y":-276},{"x":428,"y":-354},{"x":496,"y":387},{"x":496,"y":309},{"x":496,"y":231},{"x":496,"y":153},{"x":496,"y":75},{"x":496,"y":-3},{"x":496,"y":-81},{"x":496,"y":-159},{"x":496,"y":-237},{"x":496,"y":-300},{"x":564,"y":175},{"x":564,"y":114},{"x":564,"y":36},{"x":564,"y":-42},{"x":564,"y":-120},{"x":564,"y":-198},{"x":564,"y":-245},{"x":620,"y":-100},{"x":620,"y":-175},{"x":590,"y":50},{"x":-565,"y":213},{"x":-350,"y":-25},{"x":-290,"y":-50},{"x":-235,"y":-70},{"x":-110,"y":-190},{"x":-55,"y":-230},{"x":40,"y":-527},{"x":110,"y":-476},{"x":210,"y":-459},{"x":24,"y":-630},{"x":143,"y":-630},{"x":210,"y":-636},{"x":75,"y":-561},{"x":177,"y":-527},{"x":-272,"y":-690},{"x":330,"y":-602},{"x":398,"y":-610},{"x":466,"y":-625},{"x":585,"y":-592},{"x":551,"y":-490},{"x":517,"y":-389},{"x":619,"y":-355},{"x":568,"y":-372},{"x":398,"y":-456},{"x":449,"y":-405},{"x":296,"y":-440},{"x":670,"y":-610},{"x":670,"y":33},{"x":534,"y":591},{"x":619,"y":541},{"x":568,"y":625},{"x":592,"y":640}]
},
"vconcat":[
{"title":{"text":"LiDAR Point 3D Coordinate Graph","offset":5},"width":656,"height":527,
"encoding":{"x":{"field":"u","type":"quantitative","axis":null,"scale":{"domain":[287,943],"nice":false,"zero":false}},"y":{"field":"v","type":"quantitative","axis":null,"scale":{"domain":[635,108],"nice":false,"zero":false}}},
"layer":[
{"data":{"values":[{"u":372,"v":303,"v2":303},{"u":381,"v":296,"v2":491},{"u":561,"v":162,"v2":340}]},"mark":{"type":"area","color":"#f9f9f9"},"encoding":{"y2":{"field":"v2"}}},
{"data":{"values":[{"u":561,"v":162,"v2":340},{"u":855,"v":238,"v2":425},{"u":862,"v":240,"v2":240}]},"mark":{"type":"area","color":"#f2f2f2"},"encoding":{"y2":{"field":"v2"}}},
{"data":{"values":[{"u":381,"v":491,"v2":491},{"u":561,"v":340,"v2":550},{"u":690,"v":377,"v2":592},{"u":855,"v":425,"v2":425}]},"mark":{"type":"area","color":"#f5f5f5"},"encoding":{"y2":{"field":"v2"}}},
{"data":{"name":"gridLines"},"mark":{"type":"rule","color":"#b0b0b0","strokeWidth":1.1},"encoding":{"x2":{"field":"u2"},"y2":{"field":"v2"}}},
{"data":{"name":"axisLines"},"mark":{"type":"rule","color":"black","strokeWidth":1.1},"encoding":{"x2":{"field":"u2"},"y2":{"field":"v2"}}},
{"data":{"name":"pale"},"mark":{"type":"circle","size":54,"color":"#7ad151","opacity":0.35,"clip":true}},
{"data":{"name":"farTeal"},"mark":{"type":"circle","size":54,"color":"#1fa187","opacity":0.35,"clip":true}},
{"data":{"name":"backBlue"},"mark":{"type":"circle","size":54,"color":"#31688e","opacity":0.5,"clip":true}},
{"data":{"name":"backPurple"},"mark":{"type":"circle","size":54,"color":"#482878","opacity":0.62,"clip":true}},
{"data":{"name":"fan"},"mark":{"type":"circle","size":54,"color":"#26828e","opacity":0.65,"clip":true}},
{"data":{"name":"lower"},"mark":{"type":"circle","size":54,"color":"#31688e","opacity":0.7,"clip":true}},
{"data":{"name":"tubes"},"mark":{"type":"circle","size":54,"color":"#443a83","opacity":0.6,"clip":true}},
{"data":{"name":"disc"},"mark":{"type":"circle","size":54,"color":"#3f3b85","opacity":0.8,"clip":true}},
{"data":{"name":"scatter"},"mark":{"type":"circle","size":54,"color":"#481f70","opacity":0.85,"clip":true}},
{"data":{"name":"arc"},"mark":{"type":"circle","size":54,"color":"#471365","opacity":0.95,"clip":true}},
{"data":{"name":"blob"},"mark":{"type":"circle","size":54,"opacity":1,"clip":true},"encoding":{"color":{"datum":"point","scale":{"domain":["point"],"range":["#440154"]},"legend":{"orient":"none","legendX":500,"legendY":5,"symbolOpacity":1,"symbolSize":54,"symbolOffset":7,"labelOffset":17}}}},
{"data":{"name":"tickLabels"},"mark":{"type":"text","fontSize":13.9,"color":"black","align":"center","baseline":"middle"},"encoding":{"text":{"field":"t"}}},
{"data":{"values":[{"u":508,"v":585,"t":"X (cm)"}]},"mark":{"type":"text","fontSize":13.9,"color":"black","angle":18},"encoding":{"text":{"field":"t"}}},
{"data":{"values":[{"u":814,"v":539,"t":"Y (cm)"}]},"mark":{"type":"text","fontSize":13.9,"color":"black","angle":315},"encoding":{"text":{"field":"t"}}},
{"data":{"values":[{"u":915,"v":326,"t":"H (cm)"}]},"mark":{"type":"text","fontSize":13.9,"color":"black","angle":272},"encoding":{"text":{"field":"t"}}}
]},
{"spacing":112,"resolve":{"scale":{"color":"independent"},"legend":{"color":"independent"}},"hconcat":[
{"title":"LiDAR Point 2D Coordinate Graph","width":132,"height":132,"view":{"stroke":"black","strokeWidth":1.1},
"data":{"name":"plan"},"mark":{"type":"circle","size":81,"opacity":1,"clip":true},
"encoding":{"x":{"field":"x","type":"quantitative","title":"X (cm)","scale":{"domain":[-671,667],"nice":false,"zero":false},"axis":{"values":[-500,0,500]}},"y":{"field":"y","type":"quantitative","title":"Y (cm)","scale":{"domain":[-669,666],"nice":false,"zero":false},"axis":{"values":[-500,0,500]}},"color":{"datum":"point","scale":{"domain":["point","wall"],"range":["#90ee90","#0000ff"]},"legend":{"orient":"none","legendX":145,"legendY":5,"symbolSize":81,"symbolOpacity":1,"symbolOffset":6,"labelOffset":17,"rowPadding":6}}}},
{"title":"Height Histogram","width":404,"height":132,"view":{"stroke":"black","strokeWidth":1.1},
"data":{"values":[{"lo":0,"hi":450,"n":5245},{"lo":450,"hi":830,"n":1092}]},"mark":{"type":"bar"},
"encoding":{"x":{"field":"lo","type":"quantitative","title":null,"scale":{"domain":[0,830],"nice":false},"axis":{"values":[0,100,200,300,400,500,600,700,800],"format":"d"}},"x2":{"field":"hi"},"y":{"field":"n","type":"quantitative","title":null,"scale":{"domain":[0,5480],"nice":false},"axis":{"values":[0,2000,4000],"format":"d"}},"y2":{"datum":0},"color":{"datum":"Height","scale":{"domain":["Height"],"range":["#0000ff"]},"legend":{"orient":"none","legendX":301,"legendY":2,"padding":4,"symbolOffset":2,"symbolType":"M-1,-0.4H1V0.4H-1Z","symbolSize":784,"symbolStrokeWidth":0,"labelOffset":11}}}}
]}
]}
